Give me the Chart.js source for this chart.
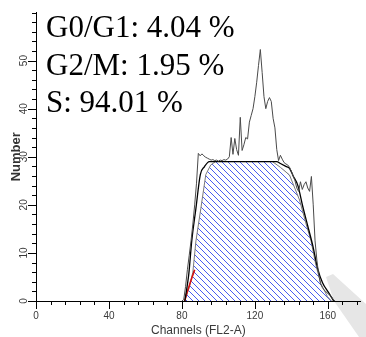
<!DOCTYPE html>
<html>
<head>
<meta charset="utf-8">
<title>Cell cycle histogram</title>
<script src="https://cdn.jsdelivr.net/npm/chart.js@4.4.1/dist/chart.umd.min.js"></script>
<style>
  html, body { margin: 0; padding: 0; background: #fff; }
  canvas { display: block; }
</style>
</head>
<body>
<canvas id="chart-cycle" width="366" height="337"></canvas>
<script>
// ── Cell cycle histogram (FL2-A) ───────────────────────────────────

// raw histogram, one value per channel
const rawChannels = [80, 81, 82, 83, 84, 85, 86, 87, 88, 89, 90, 91, 92, 93, 94, 95, 96, 97, 98, 99,
  100, 101, 102, 103, 104, 105, 106, 107, 108, 109, 110, 111, 112, 113, 114, 115, 116, 117, 118, 119,
  120, 121, 122, 123, 124, 125, 126, 127, 128, 129, 130, 131, 132, 133, 134, 135, 136, 137, 138, 139,
  140, 141, 142, 143, 144, 145, 146, 147, 148, 149, 150, 151, 152, 153, 154, 155, 156, 157, 158, 159,
  160, 161, 162, 163, 164];
const rawCounts = [0, 0.3, 3, 6.5, 9.5, 12.5, 16, 20, 24.5, 30.7, 30.2, 30.6, 30.2, 29.9, 29.7, 29.5, 29.3, 29.4, 29.2, 29.3,
  29.1, 29.3, 29.2, 29.4, 29.3, 29.5, 30, 34, 30.5, 33.8, 31.5, 30.3, 38.2, 31.3, 32.5, 34, 33.7, 37.2, 38.6, 40,
  42.5, 45.5, 49, 52.3, 47.5, 42.5, 40, 41.5, 42.3, 41.5, 38, 36, 31.5, 29.2, 30.3, 29.5, 28.8, 28.5, 28.3, 27.8,
  27, 26, 25, 23.5, 22.8, 24.8, 23.2, 24.2, 24.8, 23.5, 22.8, 25.9, 20, 12.5, 8.5, 5.5, 3.6, 2.8, 2.3, 1.9,
  1.6, 1.2, 0.9, 0.3, 0];

// model fit (sum of components)
const fitChannels = [81.6, 83, 83.8, 85.4, 87.7, 90.1, 92.3, 95, 132, 134, 137, 139, 141, 143.6, 146.3, 149, 151.7, 154.4, 157.1, 160.7, 163.2];
const fitCounts = [0, 3.4, 5.7, 12.5, 19.3, 26.3, 27.9, 29, 29, 28.6, 28, 27.6, 26, 24, 19.6, 15.6, 11.6, 6.8, 3.8, 1.6, 0];

// S phase component
const sChannels = [81.5, 84, 86, 87.7, 90.4, 93.1, 95.8, 98.5, 129.6, 134, 139, 144.5, 148.1, 150.8, 153.5, 156.2, 159.8, 162];
const sCounts = [0, 2.8, 6, 12.5, 19.3, 26.3, 28.3, 29, 29, 27.8, 26.2, 21, 16, 12.5, 7.4, 3.6, 0.9, 0];

// G0/G1 component, visible tail
const g1Channels = [81.5, 83, 85, 87];
const g1Counts = [0, 2, 4.3, 6.5];

const phaseLabels = ['G0/G1: 4.04 %', 'G2/M: 1.95 %', 'S: 94.01 %'];

const xTicks = [0, 40, 80, 120, 160];
const yTicks = [0, 10, 20, 30, 40, 50];

const pts = (xs, ys) => xs.map((x, i) => ({ x, y: ys[i] }));

function makeHatch() {
  const c = document.createElement('canvas');
  c.width = 6; c.height = 6;
  const g = c.getContext('2d');
  g.strokeStyle = '#4a5cf0';
  g.lineWidth = 1;
  g.beginPath();
  for (const o of [-6, 0, 6]) { g.moveTo(o, 0); g.lineTo(o + 6, 6); }
  g.stroke();
  return g.createPattern(c, 'repeat');
}

// light diagonal shading in the lower right corner
const cornerShade = {
  id: 'cornerShade',
  beforeDraw(chart) {
    const { ctx } = chart;
    ctx.save();
    ctx.fillStyle = '#e6e6e6';
    ctx.beginPath();
    ctx.moveTo(326, 277);
    ctx.lineTo(333, 274);
    ctx.lineTo(366, 304);
    ctx.lineTo(366, 337);
    ctx.lineTo(359, 337);
    ctx.lineTo(334, 301);
    ctx.closePath();
    ctx.fill();
    ctx.restore();
  },
};

// tick marks: long at labelled values, short in between
const tickMarks = {
  id: 'tickMarks',
  afterDraw(chart) {
    const { ctx, scales: { x, y } } = chart;
    ctx.save();
    ctx.strokeStyle = '#000';
    ctx.lineWidth = 1;
    ctx.beginPath();
    y.ticks.forEach(t => {
      if (t.value % 2 !== 0) return;
      const py = Math.round(y.getPixelForValue(t.value)) + 0.5;
      const len = yTicks.includes(t.value) ? 8 : 4;
      ctx.moveTo(y.right - len, py);
      ctx.lineTo(y.right, py);
    });
    x.ticks.forEach(t => {
      if (t.value % 8 !== 0) return;
      const px = Math.round(x.getPixelForValue(t.value)) + 0.5;
      const len = xTicks.includes(t.value) ? 8 : 4;
      ctx.moveTo(px, x.top);
      ctx.lineTo(px, x.top + len);
    });
    ctx.stroke();
    ctx.restore();
  },
};

// phase percentages in the upper left
const phaseText = {
  id: 'phaseText',
  afterDraw(chart) {
    const { ctx, chartArea } = chart;
    ctx.save();
    ctx.fillStyle = '#000';
    ctx.font = '31px "Liberation Serif", "Times New Roman", serif';
    ctx.textBaseline = 'alphabetic';
    phaseLabels.forEach((s, i) => ctx.fillText(s, chartArea.left + 10, 37 + i * 37.5));
    ctx.restore();
  },
};

const tickFont = { family: '"Liberation Sans", Arial, sans-serif', size: 10 };

new Chart(document.getElementById('chart-cycle'), {
  type: 'line',
  data: {
    datasets: [
      { label: 'Data', data: pts(rawChannels, rawCounts), borderColor: '#4a4a4a', borderWidth: 1, pointRadius: 0, fill: false, tension: 0 },
      { label: 'Fit', data: pts(fitChannels, fitCounts), borderColor: '#000', borderWidth: 1.3, pointRadius: 0, fill: false, cubicInterpolationMode: 'monotone' },
      { label: 'G0/G1', data: pts(g1Channels, g1Counts), borderColor: '#d41010', borderWidth: 1.6, pointRadius: 0, fill: false },
      { label: 'S', data: pts(sChannels, sCounts), borderColor: '#7a7a7a', borderWidth: 1, backgroundColor: makeHatch(), pointRadius: 0, fill: 'origin', tension: 0 },
    ],
  },
  options: {
    responsive: false, animation: false,
    layout: { padding: { top: 8, right: 0, bottom: 0, left: 0 } },
    plugins: { legend: { display: false }, tooltip: { enabled: false } },
    scales: {
      x: {
        type: 'linear', min: 0, max: 178,
        ticks: { stepSize: 8, includeBounds: false, autoSkip: false, maxRotation: 0, color: '#3a3a3a', font: tickFont, padding: 9,
          callback: v => xTicks.includes(v) ? String(v) : '' },
        grid: { display: false, drawTicks: false },
        border: { display: true, color: '#000', width: 1 },
        title: { display: true, text: 'Channels (FL2-A)', color: '#3a3a3a', font: { family: '"Liberation Sans", Arial, sans-serif', size: 12 }, padding: { top: 0, bottom: -1 } },
        afterFit: s => { s.height = 36; },
      },
      y: {
        min: 0, max: 60,
        ticks: { stepSize: 2, includeBounds: false, autoSkip: false, minRotation: 90, maxRotation: 90, crossAlign: 'center', color: '#3a3a3a', font: tickFont, padding: 6.5,
          callback: v => yTicks.includes(v) ? String(v) : '' },
        grid: { display: false, drawTicks: false },
        border: { display: true, color: '#000', width: 1 },
        title: { display: true, text: 'Number', color: '#333', font: { family: '"Liberation Sans", Arial, sans-serif', size: 13, weight: 'bold' }, padding: { top: 9, bottom: 0 } },
        afterFit: s => { s.width = 36; },
      },
    },
  },
  plugins: [cornerShade, tickMarks, phaseText],
});
</script>
</body>
</html>
